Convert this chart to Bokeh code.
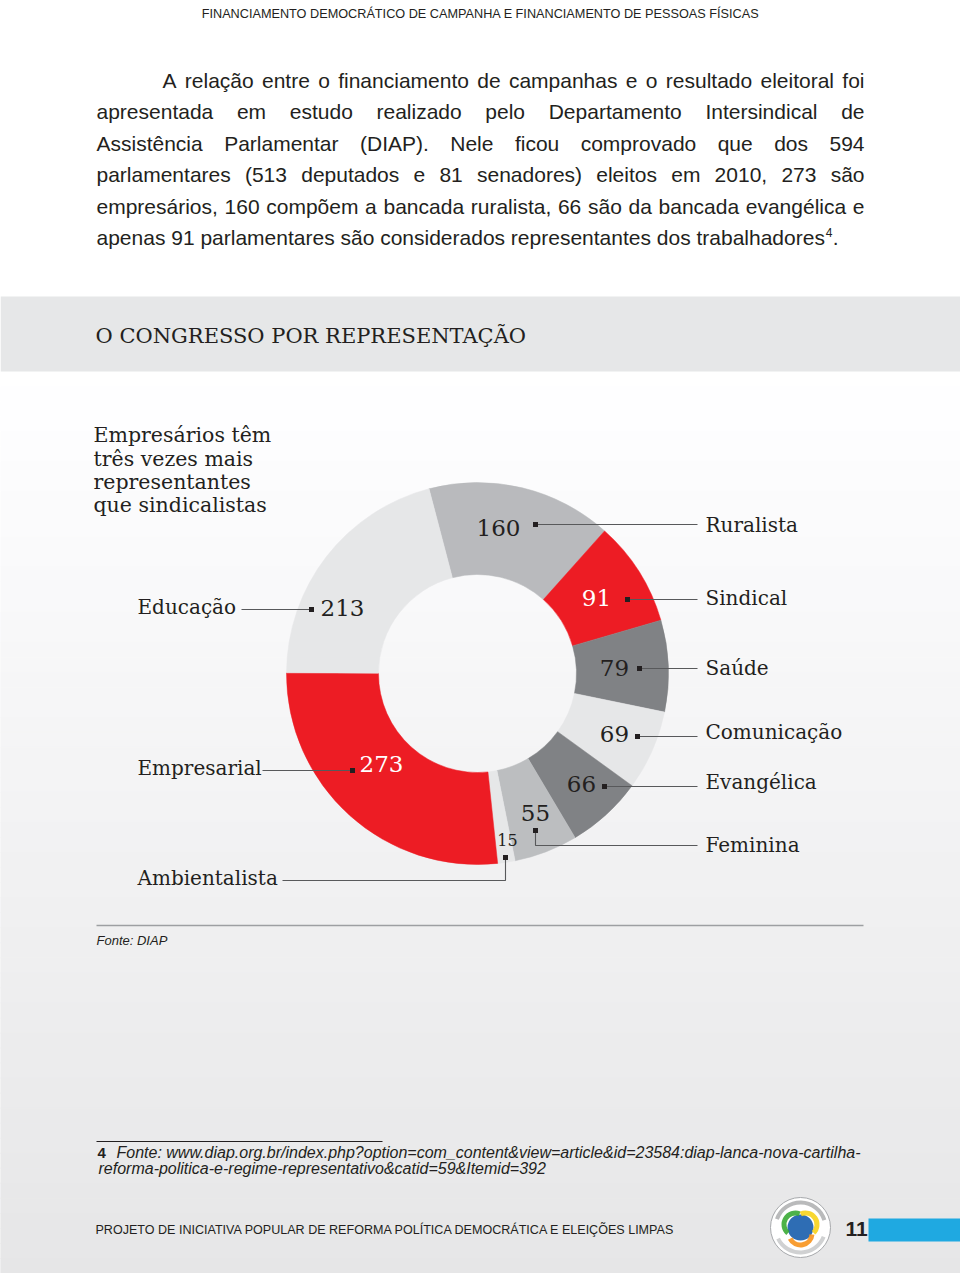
import numpy as np
from bokeh.plotting import figure
from bokeh.models import Range1d
from bokeh.embed import file_html
from bokeh.resources import INLINE
from bokeh.core.properties import value

# ---------------- data ----------------
categories = ["Ruralista", "Sindical", "Saúde", "Comunicação", "Evangélica",
              "Feminina", "Ambientalista", "Empresarial", "Educação"]
counts = [160, 91, 79, 69, 66, 55, 15, 273, 213]
seg_colors = ["#b9babd", "#ed1c24", "#808285", "#e6e7e8", "#808285",
              "#bcbec0", "#e6e7e8", "#ed1c24", "#e6e7e8"]
num_colors = ["#231f20", "#ffffff", "#231f20", "#231f20", "#231f20",
              "#231f20", "#231f20", "#ffffff", "#231f20"]

header_text = "FINANCIAMENTO DEMOCRÁTICO DE CAMPANHA E FINANCIAMENTO DE PESSOAS FÍSICAS"
body_lines = [
    "A relação entre o financiamento de campanhas e o resultado eleitoral foi",
    "apresentada em estudo realizado pelo Departamento Intersindical de",
    "Assistência Parlamentar (DIAP). Nele ficou comprovado que dos 594",
    "parlamentares (513 deputados e 81 senadores) eleitos em 2010, 273 são",
    "empresários, 160 compõem a bancada ruralista, 66 são da bancada evangélica e",
    "apenas 91 parlamentares são considerados representantes dos trabalhadores",
]
section_title = "O CONGRESSO POR REPRESENTAÇÃO"
chart_heading = ["Empresários têm", "três vezes mais", "representantes", "que sindicalistas"]
source_text = "Fonte: DIAP"
footnote_lines = ["Fonte:  www.diap.org.br/index.php?option=com_content&view=article&id=23584:diap-lanca-nova-cartilha-",
                  "reforma-politica-e-regime-representativo&catid=59&Itemid=392"]
footer_text = "PROJETO DE INICIATIVA POPULAR DE REFORMA POLÍTICA DEMOCRÁTICA E ELEIÇÕES LIMPAS"
page_number = "11"

# ---------------- layout (page pixel coordinates) ----------------
W, H = 960, 1273
CX, CY, R_IN, R_OUT = 477, 673, 99, 191
START_DEG = 104.7
num_x = [498, 596, 614, 614, 581, 535, 507, 381, 342]
num_base = [537, 607, 677, 743, 793, 822, 846, 773, 617]
num_size = [23] * 6 + [16] + [23] * 2
cat_x = [705, 705, 705, 705, 705, 705, 137, 137, 137]
cat_base = [533, 606, 676, 740, 790, 853, 886, 776, 615]
lead_xs = [[535, 697], [627, 697], [639, 697], [637, 697], [604, 697],
           [535, 535, 697], [505, 505, 282], [352, 262], [311, 241]]
lead_ys = [[524, 524], [599, 599], [668, 668], [736, 736], [786, 786],
           [830, 845, 845], [857, 880, 880], [770, 770], [609, 609]]

# Arial / Liberation Sans advance widths (1/1000 em)
AW = {' ': 278, ',': 278, '.': 278, '(': 333, ')': 333, ':': 278, '-': 333}
for ch in "0123456789":
    AW[ch] = 556
AW.update(dict(A=667, B=667, C=722, D=722, E=667, F=611, G=778, H=722, I=278, J=500, K=667,
               L=556, M=833, N=722, O=778, P=667, Q=778, R=722, S=667, T=611, U=722, V=667,
               W=944, X=667, Y=667, Z=611))
AW.update({'Á': 667, 'Í': 278, 'Ç': 722, 'Õ': 778})
AW.update(dict(a=556, b=556, c=500, d=556, e=556, f=278, g=556, h=556, i=222, j=222, k=500,
               l=222, m=833, n=556, o=556, p=556, q=556, r=333, s=500, t=278, u=556, v=500,
               w=722, x=500, y=500, z=500))
AW.update({'ã': 556, 'á': 556, 'â': 556, 'ç': 500, 'é': 556, 'ê': 556, 'í': 278,
           'õ': 556, 'ó': 556, 'ú': 556})


def tw(s, size):
    return sum(AW.get(ch, 556) for ch in s) / 1000.0 * size


def Y(v):
    return [-t for t in v] if isinstance(v, (list, tuple, np.ndarray)) else -v


SHIFT = 0.41


def TY(base, size):
    """data y for a text whose baseline should sit at page y `base`"""
    if isinstance(base, (list, tuple)):
        return [-(b - SHIFT * size) for b in base]
    return -(base - SHIFT * size)


DARK = "#231f20"
SANS = value("Liberation Sans")
SERIF = value("DejaVu Serif")

p = figure(width=W, height=H, x_range=Range1d(0, W), y_range=Range1d(-H, 0),
           output_backend="svg", toolbar_location=None, x_axis_type=None, y_axis_type=None,
           min_border=0)
p.min_border_left = p.min_border_right = p.min_border_top = p.min_border_bottom = 0
p.grid.visible = False
p.outline_line_color = None
p.background_fill_color = "white"
p.border_fill_color = "white"

# background gradient below the band
n = 60
edges = np.linspace(371, H, n + 1)
cols = []
for k in range(n):
    t = (k + 0.5) / n
    g = int(round(255 - (255 - 230) * t))
    cols.append("#%02x%02x%02x" % (g, g, min(255, g + 1)))
p.quad(left=0, right=W, top=Y(list(edges[:-1])), bottom=Y(list(edges[1:])),
       fill_color=cols, line_color=cols)

# grey band
p.quad(left=0, right=W, top=-296, bottom=-371, fill_color="#e6e7e8", line_color=None)

# header (fit to reference width)
hs = 559.0 / tw(header_text, 1.0)
p.text(x=[480], y=[TY(19, hs)], text=[header_text], text_font=SANS,
       text_font_size="%.2fpx" % hs, text_align="center", text_baseline="alphabetic", text_color=DARK)

# body text (justified word by word)
BS = 21
body_base = [89, 120, 152, 183, 215, 246]
wx, wy, wt = [], [], []
last_end = 0
for i, line in enumerate(body_lines):
    words = line.split(" ")
    x0 = 162 if i == 0 else 96
    if i < len(body_lines) - 1:
        total = sum(tw(w, BS) for w in words)
        gap = (864 - x0 - total) / (len(words) - 1)
    else:
        gap = tw(" ", BS)
    x = x0
    for w in words:
        wx.append(x)
        wy.append(TY(body_base[i], BS))
        wt.append(w)
        x += tw(w, BS) + gap
    last_end = x - gap
p.text(x=wx, y=wy, text=wt, text_font=SANS, text_font_size="%dpx" % BS,
       text_align="left", text_baseline="alphabetic", text_color=DARK)
p.text(x=[last_end + 1], y=[TY(body_base[-1] - 9, 12)], text=["4"], text_font=SANS,
       text_font_size="12px", text_align="left", text_baseline="alphabetic", text_color=DARK)
p.text(x=[last_end + 8], y=[TY(body_base[-1], BS)], text=["."], text_font=SANS,
       text_font_size="%dpx" % BS, text_align="left", text_baseline="alphabetic", text_color=DARK)

# section title
p.text(x=[95], y=[TY(344, 21)], text=[section_title], text_font=SERIF,
       text_font_size="21px", text_align="left", text_baseline="alphabetic", text_color=DARK)

# chart heading
p.text(x=[93] * 4, y=TY([443, 467, 490, 513], 20.5), text=chart_heading, text_font=SERIF,
       text_font_size="20.5px", text_align="left", text_baseline="alphabetic", text_color=DARK)

# donut
total = float(sum(counts))
spans = np.array(counts) / total * 2 * np.pi
starts = np.deg2rad(START_DEG) - np.concatenate([[0], np.cumsum(spans)[:-1]])
ends = starts - spans
p.annular_wedge(x=CX, y=-CY, inner_radius=R_IN, outer_radius=R_OUT,
                start_angle=list(starts), end_angle=list(ends), direction="clock",
                fill_color=seg_colors, line_color=seg_colors, line_width=0.5)

# leader lines and markers
p.multi_line(xs=lead_xs, ys=[Y(v) for v in lead_ys], line_color="#58595b", line_width=1.1)
p.scatter(x=[v[0] for v in lead_xs], y=[-v[0] for v in lead_ys], marker="square", size=5,
          fill_color=DARK, line_color=None)

# value labels
for i in range(len(counts)):
    p.text(x=[num_x[i]], y=[TY(num_base[i], num_size[i])], text=[str(counts[i])], text_font=SERIF,
           text_font_size="%dpx" % num_size[i], text_align="center", text_baseline="alphabetic",
           text_color=num_colors[i])

# category labels
p.text(x=cat_x, y=TY(cat_base, 20), text=categories, text_font=SERIF,
       text_font_size="20px", text_align="left", text_baseline="alphabetic", text_color=DARK)

# source rule and text
p.segment(x0=[96], y0=[-925], x1=[863], y1=[-925], line_color="#9d9fa2", line_width=1.5)
p.text(x=[96], y=[TY(945, 13)], text=[source_text], text_font=SANS,
       text_font_size="13px", text_font_style="italic", text_align="left",
       text_baseline="alphabetic", text_color=DARK)

# footnote
p.segment(x0=[96], y0=[-1141], x1=[382], y1=[-1141], line_color=DARK, line_width=1)
p.text(x=[97], y=[TY(1159, 15)], text=["4"], text_font=SANS, text_font_size="15px",
       text_font_style="bold", text_align="left", text_baseline="alphabetic", text_color=DARK)
p.text(x=[116, 98], y=TY([1159, 1175], 16), text=footnote_lines, text_font=SANS,
       text_font_size="16px", text_font_style="italic", text_align="left",
       text_baseline="alphabetic", text_color=DARK)

# footer
fs = 584.0 / tw(footer_text, 1.0)
p.text(x=[95], y=[TY(1235, fs)], text=[footer_text], text_font=SANS,
       text_font_size="%.2fpx" % fs, text_align="left", text_baseline="alphabetic", text_color=DARK)
p.text(x=[845], y=[TY(1237, 21)], text=[page_number], text_font=SANS,
       text_font_size="21px", text_font_style="bold", text_align="left",
       text_baseline="alphabetic", text_color=DARK)
p.quad(left=868, right=W, top=-1218, bottom=-1241, fill_color="#1fa9e1", line_color=None)

# logo (simplified)
LX, LY = 800, -1227
p.circle(x=LX, y=LY, radius=30, fill_color="white", line_color="#a7a9ac", line_width=1)
p.annular_wedge(x=LX, y=LY, inner_radius=23, outer_radius=27, start_angle=0.3, end_angle=2.8,
                fill_color="#8a8c8e", line_color=None, fill_alpha=0.6)
p.annular_wedge(x=LX, y=LY, inner_radius=23, outer_radius=27, start_angle=3.6, end_angle=5.9,
                fill_color="#8a8c8e", line_color=None, fill_alpha=0.4)
p.circle(x=LX, y=LY, radius=13, fill_color="#2e6db4", line_color=None)
p.annular_wedge(x=[LX - 5, LX + 5, LX], y=[LY + 3, LY + 3, LY - 6], inner_radius=9, outer_radius=14,
                start_angle=[1.2, -0.8, 3.6], end_angle=[4.0, 2.0, 6.2],
                fill_color=["#3aaa35", "#f7d31b", "#f7941d"], line_color=None, fill_alpha=0.9)

open("out.html", "w").write(file_html(p, INLINE))
